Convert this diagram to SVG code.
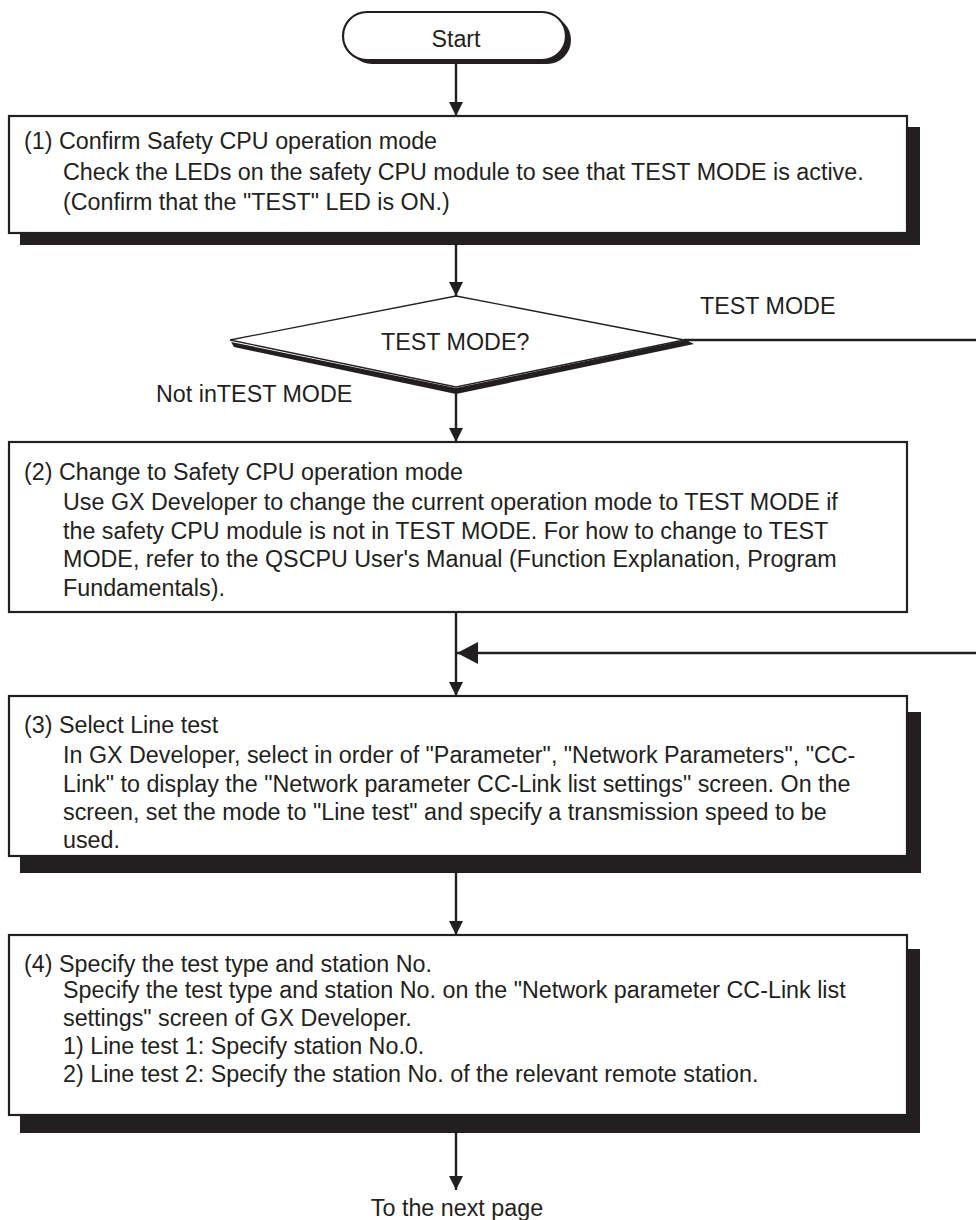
<svg xmlns="http://www.w3.org/2000/svg" width="976" height="1220" viewBox="0 0 976 1220">
<defs>
<style>
text{font-family:"Liberation Sans",Arial,sans-serif;font-size:23.3px;fill:#231f20}
.box{fill:#fff;stroke:#231f20;stroke-width:2.2}
.sh{fill:#231f20}
.ln{fill:none;stroke:#231f20;stroke-width:2.4}
.dia{fill:#fff;stroke:#231f20;stroke-width:1.3}
</style>
<marker id="ah" markerUnits="userSpaceOnUse" markerWidth="16" markerHeight="16" refX="14" refY="7" orient="auto">
<path d="M0,0 L14,7 L0,14 z" fill="#231f20"/>
</marker>
<marker id="ahL" markerUnits="userSpaceOnUse" markerWidth="24" markerHeight="24" refX="21" refY="11" orient="auto">
<path d="M0,0 L21,11 L0,22 z" fill="#231f20"/>
</marker>
</defs>
<g id="connectors">
<line class="ln" x1="456" y1="62" x2="456" y2="116" marker-end="url(#ah)"/>
<line class="ln" x1="456" y1="245" x2="456" y2="296" marker-end="url(#ah)"/>
<line class="ln" x1="456" y1="390" x2="456" y2="442" marker-end="url(#ah)"/>
<line class="ln" x1="456" y1="612" x2="456" y2="696" marker-end="url(#ah)"/>
<line class="ln" x1="684" y1="340" x2="976" y2="340"/>
<line class="ln" x1="976" y1="653" x2="457" y2="653" marker-end="url(#ahL)"/>
<line class="ln" x1="456" y1="873" x2="456" y2="935" marker-end="url(#ah)"/>
<line class="ln" x1="456" y1="1133" x2="456" y2="1190" marker-end="url(#ah)"/>
</g>
<g id="start">
<rect class="sh" x="348" y="16" width="223" height="48" rx="24"/>
<rect class="box" x="343" y="12" width="223" height="48" rx="24"/>
<text x="456" y="46.5" text-anchor="middle">Start</text>
</g>
<g id="step1">
<rect class="sh" x="20" y="127" width="900" height="118"/>
<rect class="box" x="9" y="116" width="898" height="117"/>
<text x="24" y="149">(1) Confirm Safety CPU operation mode</text>
<text x="63" y="180">Check the LEDs on the safety CPU module to see that TEST MODE is active.</text>
<text x="63" y="210">(Confirm that the "TEST" LED is ON.)</text>
</g>
<g id="decision">
<polygon class="sh" points="231,342 456,388 686,340 694,344 456,394 234,347"/>
<polygon class="dia" points="456,296 684,340 456,387 230,340"/>
<text x="381" y="350">TEST MODE?</text>
</g>
<g id="labels">
<text x="700" y="314">TEST MODE</text>
<text x="156" y="402">Not inTEST MODE</text>
<text x="457" y="1216" text-anchor="middle">To the next page</text>
</g>
<g id="step2">
<rect class="box" x="9" y="442" width="898" height="170"/>
<text x="24" y="480">(2) Change to Safety CPU operation mode</text>
<text x="63" y="510">Use GX Developer to change the current operation mode to TEST MODE if</text>
<text x="63" y="539">the safety CPU module is not in TEST MODE. For how to change to TEST</text>
<text x="63" y="567">MODE, refer to the QSCPU User's Manual (Function Explanation, Program</text>
<text x="63" y="596">Fundamentals).</text>
</g>
<g id="step3">
<rect class="sh" x="20" y="712" width="901" height="161"/>
<rect class="box" x="9" y="696" width="898" height="160"/>
<text x="24" y="733">(3) Select Line test</text>
<text x="63" y="763">In GX Developer, select in order of "Parameter", "Network Parameters", "CC-</text>
<text x="63" y="792">Link" to display the "Network parameter CC-Link list settings" screen. On the</text>
<text x="63" y="820">screen, set the mode to "Line test" and specify a transmission speed to be</text>
<text x="63" y="848">used.</text>
</g>
<g id="step4">
<rect class="sh" x="20" y="949" width="900" height="184"/>
<rect class="box" x="9" y="935" width="898" height="180"/>
<text x="24" y="972">(4) Specify the test type and station No.</text>
<text x="63" y="998">Specify the test type and station No. on the "Network parameter CC-Link list</text>
<text x="63" y="1026">settings" screen of GX Developer.</text>
<text x="63" y="1054">1) Line test 1: Specify station No.0.</text>
<text x="63" y="1082">2) Line test 2: Specify the station No. of the relevant remote station.</text>
</g>
</svg>
